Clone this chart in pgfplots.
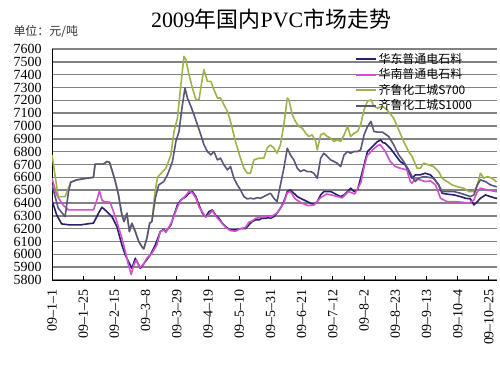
\documentclass[border=0pt]{standalone}
\usepackage{pgfplots}
\pgfplotsset{compat=1.18}
\usepackage{fontspec}
\setmainfont{Liberation Serif}
\newfontfamily\cjk{Noto Sans CJK SC}
\definecolor{cNavy}{RGB}{40,32,105}
\definecolor{cPink}{RGB}{208,80,208}
\definecolor{cGreen}{RGB}{155,180,75}
\definecolor{cSlate}{RGB}{90,85,125}
\definecolor{cGrid}{RGB}{130,130,130}
\definecolor{cText}{RGB}{50,50,50}
\begin{document}
\begin{tikzpicture}
\useasboundingbox (-52bp,-93bp) rectangle (448bp,280bp);
\node[font=\fontsize{22}{22}\selectfont] at (219bp,261bp) {2009{\cjk 年国内}PVC{\cjk 市场走势}};
\node[anchor=west,font=\cjk\fontsize{12}{12}\selectfont,text=cText] at (-42bp,248bp) {单位：元/吨};
\begin{axis}[
  at={(0,0)}, anchor=south west,
  scale only axis, width=445bp, height=231bp,
  xmin=0, xmax=14.26, ymin=5800, ymax=7600,
  axis x line*=bottom, axis y line*=left,
  axis line style={black, line width=1bp},
  ytick={5800,5900,...,7600},
  xtick={0,...,14},
  xticklabels={09--1--1,09--1--25,09--2--15,09--3--8,09--3--29,09--4--19,09--5--10,09--5--31,09--6--21,09--7--12,09--8--2,09--8--23,09--9--13,09--10--4,09--10--25},
  /pgf/number format/assume math mode=true,
  /pgf/number format/set thousands separator={},
  yticklabel style={font=\fontsize{14}{14}\selectfont, xshift=-7bp},
  xticklabel style={font=\fontsize{14}{14}\selectfont, rotate=90, anchor=east, xshift=-8bp, inner sep=1bp},
  ytick style={draw=none},
  xtick style={black, line width=0.8bp},
  major tick length=4bp,
  tick align=inside,
  ymajorgrids,
  major grid style={cGrid, line width=1.5bp},
  legend style={at={(axis description cs:0.675,1.0)}, anchor=north west, draw=none, fill=none,
    font=\cjk\fontsize{12}{12}\selectfont, row sep=0bp, inner sep=2bp},
  legend cell align=left,
  legend image code/.code={\draw[#1, line width=2bp] (0bp,0bp) -- (20bp,0bp);},
  every axis plot/.append style={line width=1.6bp, line join=round},
]
\addplot[cNavy] coordinates {(0,6420) (0.15,6307) (0.31,6237) (0.58,6229) (0.9,6229) (1.22,6240) (1.33,6243) (1.49,6320) (1.6,6367) (1.76,6333) (1.92,6294) (2.08,6216) (2.24,6073) (2.35,5995) (2.45,5943) (2.56,5890) (2.67,5970) (2.83,5890) (2.99,5943) (3.15,5995) (3.31,6073) (3.47,6177) (3.58,6195) (3.65,6177) (3.81,6229) (3.91,6307) (4.02,6385) (4.13,6424) (4.29,6450) (4.39,6476) (4.5,6489) (4.61,6450) (4.71,6385) (4.82,6320) (4.93,6294) (5.03,6333) (5.14,6346) (5.24,6307) (5.35,6281) (5.46,6242) (5.56,6216) (5.72,6190) (5.88,6190) (6.04,6200) (6.2,6200) (6.31,6229) (6.41,6255) (6.52,6268) (6.63,6268) (6.73,6281) (6.84,6281) (6.95,6286) (7.0,6281) (7.11,6294) (7.21,6320) (7.32,6359) (7.43,6411) (7.54,6489) (7.64,6502) (7.75,6476) (7.86,6450) (7.96,6437) (8.07,6424) (8.18,6411) (8.29,6398) (8.39,6390) (8.5,6411) (8.61,6463) (8.71,6489) (8.82,6489) (8.93,6489) (9.04,6476) (9.14,6463) (9.25,6450) (9.36,6463) (9.47,6489) (9.57,6515) (9.68,6489) (9.79,6502) (9.89,6593) (10.0,6697) (10.11,6801) (10.22,6827) (10.32,6853) (10.43,6879) (10.54,6892) (10.6,6870) (10.68,6866) (10.84,6827) (11.0,6775) (11.16,6723) (11.32,6697) (11.43,6645) (11.54,6593) (11.64,6619) (11.8,6619) (11.96,6632) (12.13,6619) (12.23,6593) (12.39,6541) (12.5,6476) (12.66,6469) (12.88,6463) (13.09,6450) (13.25,6437) (13.41,6432) (13.52,6385) (13.63,6411) (13.73,6437) (13.89,6463) (14.05,6450) (14.22,6437) (14.26,6437)};
\addlegendentry{华东普通电石料}
\addplot[cPink] coordinates {(0,6593) (0.15,6463) (0.35,6385) (0.53,6346) (1.33,6346) (1.44,6424) (1.52,6494) (1.6,6424) (1.66,6411) (1.86,6406) (1.97,6333) (2.08,6255) (2.24,6125) (2.35,6021) (2.45,5917) (2.54,5844) (2.62,5917) (2.7,5956) (2.81,5896) (2.92,5917) (3.04,5970) (3.2,6008) (3.36,6073) (3.47,6177) (3.58,6190) (3.65,6170) (3.81,6240) (3.91,6300) (4.02,6370) (4.13,6420) (4.29,6460) (4.39,6490) (4.5,6480) (4.61,6440) (4.71,6370) (4.82,6330) (4.93,6290) (5.03,6310) (5.14,6340) (5.24,6300) (5.35,6270) (5.46,6240) (5.56,6210) (5.72,6185) (5.88,6180) (6.04,6200) (6.2,6210) (6.31,6250) (6.41,6260) (6.52,6280) (6.73,6290) (6.95,6300) (7.0,6290) (7.2,6320) (7.43,6400) (7.54,6480) (7.64,6490) (7.8,6430) (8.0,6400) (8.2,6380) (8.4,6385) (8.6,6440) (8.8,6470) (9.0,6460) (9.3,6440) (9.5,6490) (9.7,6470) (9.9,6560) (10.0,6680) (10.1,6770) (10.3,6820) (10.45,6850) (10.52,6853) (10.68,6801) (10.84,6723) (11.0,6684) (11.16,6671) (11.37,6658) (11.48,6567) (11.54,6554) (11.64,6593) (11.8,6580) (11.96,6567) (12.13,6572) (12.29,6541) (12.45,6437) (12.66,6411) (12.88,6411) (13.14,6406) (13.36,6398) (13.52,6424) (13.63,6489) (13.73,6515) (13.95,6502) (14.22,6489) (14.26,6489)};
\addlegendentry{华南普通电石料}
\addplot[cGreen] coordinates {(0,6775) (0.08,6645) (0.2,6450) (0.42,6450) (0.5,6500) (0.6,6562) (0.79,6580) (1.11,6593) (1.33,6600) (1.38,6703) (1.65,6703) (1.76,6723) (1.84,6718) (1.92,6658) (2.03,6567) (2.13,6463) (2.24,6307) (2.31,6255) (2.4,6320) (2.48,6177) (2.56,6242) (2.67,6177) (2.78,6099) (2.88,6060) (2.94,6042) (3.04,6125) (3.13,6242) (3.2,6255) (3.3,6480) (3.38,6600) (3.49,6630) (3.65,6671) (3.81,6775) (3.91,6957) (4.02,7061) (4.13,7322) (4.23,7543) (4.29,7517) (4.39,7400) (4.5,7296) (4.61,7205) (4.71,7205) (4.82,7374) (4.87,7439) (4.98,7348) (5.09,7348) (5.17,7296) (5.3,7218) (5.4,7218) (5.51,7166) (5.62,7114) (5.72,7036) (5.88,6879) (6.04,6749) (6.15,6671) (6.26,6632) (6.36,6632) (6.47,6736) (6.63,6749) (6.79,6749) (6.89,6827) (7.0,6853) (7.11,6827) (7.21,6788) (7.32,6853) (7.43,7010) (7.54,7218) (7.59,7205) (7.7,7088) (7.8,7036) (7.91,6996) (8.02,6983) (8.13,6944) (8.23,6918) (8.34,6931) (8.45,6879) (8.5,6814) (8.61,6931) (8.71,6944) (8.82,6918) (8.93,6905) (9.04,6879) (9.14,6892) (9.25,6879) (9.36,6931) (9.47,6996) (9.57,6918) (9.68,6944) (9.79,6957) (9.89,7010) (10.0,7127) (10.11,7192) (10.22,7205) (10.32,7153) (10.43,7140) (10.59,7153) (10.73,7127) (10.95,7061) (11.11,6970) (11.27,6879) (11.43,6801) (11.54,6762) (11.7,6671) (11.8,6671) (11.91,6710) (12.07,6697) (12.23,6684) (12.39,6645) (12.5,6593) (12.66,6567) (12.82,6541) (12.98,6528) (13.2,6515) (13.36,6489) (13.52,6489) (13.63,6541) (13.73,6632) (13.84,6593) (13.95,6606) (14.11,6593) (14.22,6567) (14.26,6567)};
\addlegendentry{齐鲁化工城S700}
\addplot[cSlate] coordinates {(0,6541) (0.2,6359) (0.42,6294) (0.53,6489) (0.6,6562) (0.79,6580) (1.11,6593) (1.33,6600) (1.38,6703) (1.65,6703) (1.76,6723) (1.84,6718) (1.92,6658) (2.03,6567) (2.13,6463) (2.24,6307) (2.31,6255) (2.4,6320) (2.48,6177) (2.56,6242) (2.67,6177) (2.78,6099) (2.88,6060) (2.94,6042) (3.04,6125) (3.13,6242) (3.2,6255) (3.31,6437) (3.42,6541) (3.58,6567) (3.7,6619) (3.86,6723) (3.97,6879) (4.07,6957) (4.15,7114) (4.26,7296) (4.34,7218) (4.45,7153) (4.55,7088) (4.66,7010) (4.77,6931) (4.87,6853) (4.98,6801) (5.09,6775) (5.19,6801) (5.3,6736) (5.4,6749) (5.51,6697) (5.62,6658) (5.72,6684) (5.83,6593) (5.94,6541) (6.04,6502) (6.15,6450) (6.26,6432) (6.36,6437) (6.47,6432) (6.57,6442) (6.68,6437) (6.79,6450) (6.89,6463) (7.0,6476) (7.11,6437) (7.21,6411) (7.32,6541) (7.43,6671) (7.54,6827) (7.64,6775) (7.75,6736) (7.86,6671) (7.96,6645) (8.07,6658) (8.18,6645) (8.29,6645) (8.39,6632) (8.5,6593) (8.61,6749) (8.71,6788) (8.82,6762) (8.93,6736) (9.04,6723) (9.14,6710) (9.25,6684) (9.36,6775) (9.47,6801) (9.57,6788) (9.68,6801) (9.79,6801) (9.89,6814) (10.0,6931) (10.11,6996) (10.22,7036) (10.32,6957) (10.43,6952) (10.59,6952) (10.79,6918) (10.95,6853) (11.11,6775) (11.27,6723) (11.43,6658) (11.54,6606) (11.64,6567) (11.75,6593) (11.91,6606) (12.07,6600) (12.23,6593) (12.39,6541) (12.5,6489) (12.66,6489) (12.88,6489) (13.09,6476) (13.25,6463) (13.41,6450) (13.52,6463) (13.63,6541) (13.73,6580) (13.89,6567) (14.05,6541) (14.22,6528) (14.26,6528)};
\addlegendentry{齐鲁化工城S1000}
\end{axis}
\end{tikzpicture}
\end{document}
